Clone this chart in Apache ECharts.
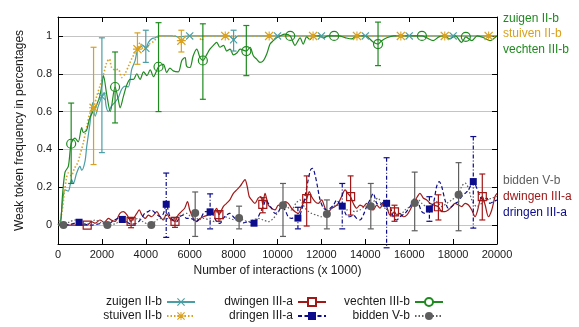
<!DOCTYPE html>
<html>
<head>
<meta charset="utf-8">
<script src="https://cdn.jsdelivr.net/npm/echarts@6/dist/echarts.min.js"></script>
<style>html,body{margin:0;padding:0;background:#fff}#c{width:579px;height:327px}</style>
</head>
<body>
<div id="c"></div>
<script>
// ---------- data (x in thousands of interactions, y = weak token frequency) ----------
const xMin = 0, xMax = 20000, xInterval = 2000;
const yTickValues = [0, 0.2, 0.4, 0.6, 0.8, 1];

const zuigenLine = [[0,0],[90,0.01],[240,0.15],[320,0.186],[470,0.18],[620,0.24],[700,0.22],[850,0.275],[1000,0.31],[1080,0.29],[1230,0.337],[1310,0.417],[1460,0.54],[1580,0.647],[1690,0.576],[1840,0.63],[2000,0.68],[2110,0.70],[2190,0.63],[2290,0.6],[2440,0.63],[2600,0.65],[2750,0.674],[2900,0.718],[3050,0.735],[3200,0.73],[3360,0.824],[3510,0.868],[3610,0.92],[3740,0.94],[3900,0.948],[4000,0.935],[4120,0.966],[4270,0.985],[4420,0.99],[4600,1.0],[5200,1.0],[5500,0.995],[6000,1.0],[7800,1.0],[8000,0.98],[8200,1.0],[20000,1.0]];
const stuivenLine = [[0,0],[150,0.05],[300,0.18],[400,0.257],[470,0.275],[600,0.26],[750,0.3],[900,0.33],[1000,0.37],[1150,0.434],[1310,0.52],[1460,0.594],[1620,0.62],[1760,0.68],[1910,0.735],[2060,0.79],[2220,0.86],[2340,0.878],[2440,0.834],[2600,0.82],[2750,0.824],[2900,0.78],[3050,0.8],[3210,0.84],[3360,0.88],[3510,0.91],[3620,0.93],[3740,0.965],[3890,0.93],[4040,0.935],[4190,0.96],[4350,0.97],[4500,0.99],[4650,1.0],[5400,1.0],[5620,0.975],[5860,1.0],[6400,1.0],[6540,0.975],[6700,1.0],[20000,1.0]];
const vechtenLine = [[0,0],[100,0.0],[200,0.15],[320,0.28],[470,0.31],[600,0.43],[775,0.46],[920,0.44],[1080,0.515],[1150,0.49],[1300,0.5],[1430,0.56],[1590,0.6],[1740,0.63],[1900,0.68],[2000,0.74],[2070,0.79],[2220,0.69],[2380,0.6],[2600,0.73],[2750,0.66],[2830,0.62],[2980,0.68],[3130,0.74],[3290,0.77],[3440,0.77],[3590,0.8],[3740,0.77],[3900,0.81],[4050,0.79],[4200,0.82],[4350,0.785],[4580,0.837],[4800,0.85],[4950,0.807],[5100,0.83],[5250,0.815],[5480,0.81],[5640,0.87],[5790,0.886],[5860,0.84],[6010,0.833],[6160,0.895],[6320,0.93],[6470,0.886],[6600,0.87],[6770,0.9],[6920,0.93],[7080,0.95],[7230,0.966],[7380,0.94],[7540,0.95],[7690,0.92],[7840,0.93],[7990,0.9],[8150,0.91],[8300,0.93],[8580,0.92],[8750,0.94],[8900,0.895],[9050,0.877],[9200,0.86],[9360,0.87],[9510,0.904],[9660,0.957],[9810,0.975],[9960,0.99],[10110,1.0],[10340,1.01],[10580,1.0],[10800,0.95],[11030,0.99],[11170,0.957],[11330,0.995],[11480,0.98],[11630,1.0],[11900,1.0],[12100,0.99],[12300,1.0],[12580,1.0],[12800,1.0],[13100,0.99],[13380,0.984],[13600,1.0],[14000,1.0],[14370,0.966],[14580,0.957],[14750,0.975],[14980,0.99],[15300,1.0],[15700,1.0],[16100,1.0],[16580,1.0],[16800,0.99],[17100,0.975],[17350,0.995],[17600,1.0],[17850,0.985],[18100,1.0],[18390,0.966],[18580,0.995],[18850,0.975],[19100,1.0],[19400,0.99],[19680,0.975],[19900,0.99],[20000,1.0]];
const dwingenLine = [[0,0],[300,0],[700,0],[1000,0.0],[1330,0.0],[1530,0.018],[1700,0.01],[1910,0.027],[2100,0.015],[2300,0.035],[2450,0.025],[2600,0.02],[2820,0.062],[2980,0.071],[3150,0.053],[3330,0.02],[3440,0.035],[3590,0.062],[3700,0.08],[3820,0.053],[3970,0.035],[4120,0.053],[4270,0.044],[4500,0.071],[4650,0.045],[4800,0.027],[4950,0.062],[5100,0.035],[5330,0.02],[5470,0.053],[5620,0.071],[5770,0.089],[5900,0.124],[6000,0.08],[6150,0.04],[6320,0.018],[6470,0.035],[6620,0.044],[6840,0.053],[7080,0.062],[7230,0.089],[7330,0.055],[7530,0.098],[7680,0.115],[7830,0.133],[7990,0.168],[8140,0.186],[8290,0.204],[8440,0.23],[8520,0.24],[8620,0.204],[8710,0.151],[8820,0.133],[8970,0.115],[9120,0.142],[9240,0.151],[9330,0.11],[9430,0.168],[9580,0.106],[9730,0.089],[9890,0.08],[10040,0.106],[10190,0.098],[10340,0.124],[10490,0.115],[10640,0.089],[10800,0.071],[10950,0.062],[11100,0.098],[11250,0.133],[11330,0.14],[11450,0.177],[11550,0.151],[11710,0.124],[11860,0.115],[12010,0.133],[12170,0.089],[12320,0.071],[12470,0.089],[12620,0.098],[12770,0.115],[12920,0.151],[13080,0.186],[13200,0.168],[13330,0.15],[13450,0.115],[13610,0.089],[13760,0.106],[13910,0.098],[14060,0.115],[14210,0.089],[14360,0.08],[14520,0.106],[14670,0.089],[14820,0.115],[14970,0.098],[15130,0.053],[15330,0.07],[15430,0.053],[15580,0.062],[15730,0.044],[15890,0.053],[16040,0.08],[16190,0.115],[16370,0.15],[16490,0.168],[16650,0.142],[16800,0.133],[16950,0.115],[17100,0.106],[17330,0.097],[17480,0.071],[17630,0.071],[17780,0.08],[17940,0.098],[18090,0.115],[18240,0.106],[18390,0.098],[18550,0.115],[18700,0.106],[18850,0.08],[19000,0.044],[19100,0.071],[19230,0.133],[19330,0.15],[19460,0.106],[19610,0.044],[19760,0.08],[19910,0.151],[20000,0.168]];
const dringenLine = [[0,0],[300,0],[600,0.005],[960,0.015],[1200,0.005],[1500,0.0],[1800,0.005],[2100,0.01],[2300,0.008],[2520,0.023],[2750,0.035],[2930,0.03],[3110,0.018],[3340,0.005],[3570,0.008],[3800,0.035],[3950,0.062],[4100,0.071],[4250,0.08],[4450,0.062],[4650,0.044],[4800,0.06],[4930,0.11],[5100,0.044],[5250,0.027],[5400,0.018],[5560,0.044],[5710,0.053],[5860,0.035],[6010,0.035],[6160,0.03],[6240,0.018],[6390,0.027],[6540,0.044],[6690,0.071],[6930,0.07],[7080,0.053],[7230,0.018],[7380,0.009],[7530,0.035],[7680,0.053],[7830,0.062],[7990,0.044],[8140,0.027],[8290,0.018],[8440,0.012],[8670,0.018],[8930,0.01],[9050,0.027],[9200,0.062],[9350,0.098],[9480,0.133],[9580,0.115],[9730,0.089],[9890,0.062],[10040,0.071],[10190,0.098],[10340,0.08],[10490,0.044],[10640,0.035],[10800,0.044],[10930,0.037],[11100,0.08],[11250,0.151],[11400,0.24],[11510,0.293],[11600,0.3],[11710,0.266],[11820,0.204],[11940,0.133],[12100,0.089],[12250,0.08],[12400,0.089],[12550,0.106],[12700,0.133],[12850,0.106],[12950,0.1],[13150,0.05],[13300,0.044],[13450,0.053],[13610,0.035],[13760,0.027],[13910,0.053],[14060,0.098],[14210,0.133],[14360,0.168],[14520,0.115],[14670,0.106],[14820,0.12],[14970,0.115],[15130,0.098],[15270,0.044],[15430,0.027],[15580,0.044],[15810,0.062],[16040,0.098],[16270,0.142],[16420,0.115],[16570,0.071],[16720,0.062],[16920,0.085],[17100,0.115],[17250,0.204],[17370,0.23],[17480,0.204],[17630,0.133],[17780,0.089],[17940,0.098],[18090,0.115],[18240,0.124],[18390,0.151],[18550,0.168],[18700,0.186],[18920,0.23],[19080,0.195],[19230,0.151],[19380,0.133],[19530,0.142],[19680,0.115],[19840,0.124],[20000,0.133]];
const biddenLine = [[0,0],[250,0],[550,0.018],[780,0.027],[1000,0.012],[1310,0.005],[1690,0.027],[1950,0.012],[2250,0],[2650,0.009],[2880,0.027],[3110,0.018],[3400,0.027],[3650,0.035],[3870,0.018],[4250,0],[4500,0.027],[4720,0.035],[4950,0.035],[5180,0.027],[5400,0.044],[5620,0.053],[5860,0.062],[6080,0.044],[6250,0.064],[6390,0.027],[6620,0.035],[6920,0.027],[7150,0.018],[7380,0.027],[7610,0.044],[7830,0.035],[8060,0.027],[8250,0.037],[8440,0.027],[8670,0.018],[8900,0.027],[9120,0.035],[9350,0.027],[9580,0.018],[9810,0.035],[10040,0.071],[10250,0.105],[10420,0.098],[10640,0.08],[10840,0.115],[11020,0.133],[11170,0.106],[11330,0.08],[11550,0.062],[11780,0.053],[12010,0.044],[12250,0.058],[12470,0.089],[12700,0.106],[12920,0.098],[13160,0.08],[13300,0.08],[13530,0.071],[13760,0.08],[13990,0.098],[14250,0.1],[14440,0.133],[14590,0.142],[14740,0.106],[14900,0.089],[15130,0.071],[15350,0.062],[15580,0.053],[15810,0.08],[16040,0.098],[16250,0.117],[16420,0.133],[16570,0.115],[16800,0.098],[17020,0.106],[17250,0.124],[17480,0.098],[17710,0.115],[17940,0.133],[18250,0.16],[18390,0.204],[18550,0.222],[18700,0.195],[18850,0.133],[19080,0.098],[19310,0.115],[19530,0.133],[19760,0.142],[20000,0.151]];

// markers: [x, y, low, high]
const zuigenMarks = [[2000,0.68,0.383,0.99],[4000,0.935,0.86,1.03],[6000,1,1,1],[8000,0.98,0.92,1.03],[10000,1,1,1],[12000,1,1,1],[14000,1,1,1],[16000,1,1,1],[18000,1,1,1]];
const stuivenMarks = [[1620,0.62,0.32,0.94],[3620,0.93,0.85,1.016],[5620,0.975,0.915,1.03],[7620,1,1,1],[9620,1,1,1],[11620,1,1,1],[13620,1,1,1],[15620,1,1,1],[17620,1,1,1],[19620,1,1,1]];
const vechtenMarks = [[600,0.43,0.22,0.645],[2600,0.73,0.54,0.915],[4580,0.837,0.6,1.07],[6600,0.87,0.665,1.064],[8580,0.92,0.79,1.055],[10580,1,1,1],[12580,1,1,1],[14580,0.957,0.843,1.073],[16580,1,1,1],[18580,0.995,0.995,0.995]];
const dwingenMarks = [[1330,0,-0.008,0.008],[3330,0.02,-0.014,0.035],[5330,0.02,-0.012,0.04],[7330,0.055,0.02,0.07],[9330,0.11,0.065,0.145],[11330,0.14,-0.005,0.26],[13330,0.15,0.053,0.26],[15330,0.07,0.02,0.105],[17330,0.097,0.027,0.16],[19330,0.15,0.027,0.27]];
const dringenMarks = [[960,0.015,0.005,0.025],[2930,0.03,0.015,0.045],[4930,0.11,-0.065,0.275],[6930,0.07,-0.02,0.165],[8930,0.01,0.0,0.02],[10930,0.037,-0.02,0.094],[12950,0.1,-0.02,0.22],[14970,0.115,-0.12,0.356],[16920,0.085,0.02,0.15],[18920,0.23,-0.016,0.468]];
const biddenMarks = [[250,0,0,0],[2250,0,0,0],[4250,0,0,0],[6250,0.064,-0.06,0.175],[8250,0.037,-0.02,0.1],[10250,0.105,-0.06,0.22],[12250,0.058,-0.02,0.133],[14250,0.1,-0.02,0.22],[16250,0.117,-0.03,0.28],[18250,0.16,-0.03,0.33]];

// ---------- styles ----------
const FONT = "'Liberation Sans', Arial, Helvetica, sans-serif";
const X_SYM = 'path://M0,1 L1,0 L5,4 L9,0 L10,1 L6,5 L10,9 L9,10 L5,6 L1,10 L0,9 L4,5 Z';
const STAR_SYM = 'path://M0,1 L1,0 L5,4 L9,0 L10,1 L6,5 L10,9 L9,10 L5,6 L1,10 L0,9 L4,5 Z M4.4,0 L5.6,0 L5.6,4.4 L10,4.4 L10,5.6 L5.6,5.6 L5.6,10 L4.4,10 L4.4,5.6 L0,5.6 L0,4.4 L4.4,4.4 Z';

const defs = [
  {name:'zuigen II-b',  line: zuigenLine,  marks: zuigenMarks,  color:'#4a9ea4', dash:'solid',  width:1.2, sym: X_SYM,       mSym: X_SYM,    size:8, open:false, barDash:null},
  {name:'stuiven II-b', line: stuivenLine, marks: stuivenMarks, color:'#d9a11f', dash:[1.5,2],  width:1.6, sym: STAR_SYM,    mSym: STAR_SYM, size:9, open:false, barDash:null},
  {name:'dwingen III-a',line: dwingenLine, marks: dwingenMarks, color:'#a01818', dash:'solid',  width:1.2, sym:'emptyRect',  mSym:'rect',    size:8, open:true,  barDash:null},
  {name:'dringen III-a',line: dringenLine, marks: dringenMarks, color:'#0c0c8c', dash:[4,2.5],  width:1.2, sym:'rect',       mSym:'rect',    size:7, open:false, barDash:[4,2,1,2]},
  {name:'vechten III-b',line: vechtenLine, marks: vechtenMarks, color:'#1f8a1f', dash:'solid',  width:1.2, sym:'emptyCircle',mSym:'circle',  size:9, open:true,  barDash:null},
  {name:'bidden V-b',   line: biddenLine,  marks: biddenMarks,  color:'#5e5e5e', dash:[1.5,2],  width:1.2, sym:'circle',     mSym:'circle',  size:8, open:false, barDash:null}
];

const series = [];
defs.forEach(d => {
  series.push({
    name: d.name, type: 'line', data: d.line, showSymbol: false, symbol: d.sym, symbolSize: d.size,
    smooth: 0.3, lineStyle: {color: d.color, width: d.width, type: d.dash},
    itemStyle: {color: d.color, borderColor: d.color}, z: 2, silent: true
  });
});
defs.forEach(d => {
  series.push({
    name: d.name + ' err', type: 'custom', data: d.marks, z: 3, silent: true,
    encode: {x: 0, y: [1, 2, 3]},
    renderItem: (params, api) => {
      const x = api.value(0), lo = api.value(2), hi = api.value(3);
      if (hi - lo < 0.02) return null;
      const p1 = api.coord([x, hi]), p2 = api.coord([x, lo]);
      const w = 3;
      const st = {stroke: d.color, lineWidth: 1.2, lineDash: d.barDash || null};
      const cap = {stroke: d.color, lineWidth: 1.2};
      return {type: 'group', children: [
        {type: 'line', shape: {x1: p1[0], y1: p1[1], x2: p2[0], y2: p2[1]}, style: st},
        {type: 'line', shape: {x1: p1[0]-w, y1: p1[1], x2: p1[0]+w, y2: p1[1]}, style: cap},
        {type: 'line', shape: {x1: p2[0]-w, y1: p2[1], x2: p2[0]+w, y2: p2[1]}, style: cap}
      ]};
    }
  });
});
defs.forEach(d => {
  series.push({
    name: d.name + ' pts', type: 'scatter', data: d.marks.map(m => [m[0], m[1]]),
    symbol: d.mSym, symbolSize: d.size, z: 4, silent: true,
    itemStyle: d.open
      ? {color: 'rgba(255,255,255,0)', borderColor: d.color, borderWidth: 1.2, opacity: 1}
      : {color: d.color, borderWidth: 0, opacity: 1}
  });
});

const axisLineStyle = {show: true, onZero: false, lineStyle: {color: '#000', width: 1}};
const tickStyle = {show: true, inside: true, length: 5, lineStyle: {color: '#000', width: 1}};

const legendBase = {
  orient: 'vertical', align: 'right', itemWidth: 28, itemHeight: 10, itemGap: 2,
  textStyle: {fontSize: 12, color: '#1a1a1a', fontFamily: FONT}, selectedMode: false, padding: 0
};

const option = {
  animation: false,
  textStyle: {fontFamily: FONT},
  grid: {left: 58, right: 82, top: 17, bottom: 83},
  xAxis: [
    {type: 'value', min: xMin, max: xMax, interval: xInterval, position: 'bottom',
     axisLine: axisLineStyle, axisTick: tickStyle,
     axisLabel: {color: '#1a1a1a', fontSize: 11, margin: 5, formatter: v => String(v)},
     splitLine: {show: false},
     name: 'Number of interactions (x 1000)', nameLocation: 'middle', nameGap: 21,
     nameTextStyle: {fontSize: 12, color: '#1a1a1a'}},
    {type: 'value', min: xMin, max: xMax, interval: xInterval, position: 'top',
     axisLine: axisLineStyle, axisTick: tickStyle, axisLabel: {show: false}, splitLine: {show: false}}
  ],
  yAxis: [
    {type: 'value', min: -0.1, max: 1.1, position: 'left',
     axisLine: axisLineStyle, axisTick: Object.assign({customValues: yTickValues}, tickStyle),
     axisLabel: {customValues: yTickValues, color: '#1a1a1a', fontSize: 11, margin: 6, formatter: v => String(v)},
     splitLine: {show: true, lineStyle: {color: '#c4c4c4', width: 1}},
     name: 'Weak token frequency in percentages', nameLocation: 'middle', nameGap: 32, nameRotate: 90,
     nameTextStyle: {fontSize: 12, color: '#1a1a1a'}},
    {type: 'value', min: -0.1, max: 1.1, position: 'right',
     axisLine: axisLineStyle, axisTick: Object.assign({customValues: yTickValues}, tickStyle),
     axisLabel: {show: false}, splitLine: {show: false}}
  ],
  legend: [
    Object.assign({}, legendBase, {data: ['zuigen II-b', 'stuiven II-b'], right: 383, top: 296}),
    Object.assign({}, legendBase, {data: ['dwingen III-a', 'dringen III-a'], right: 252, top: 296}),
    Object.assign({}, legendBase, {data: ['vechten III-b', 'bidden V-b'], right: 135, top: 296})
  ],
  graphic: [
    {type: 'text', left: 503, top: 13,  style: {text: 'zuigen II-b',   fill: '#1f8a1f', font: '12px ' + FONT}},
    {type: 'text', left: 503, top: 28,  style: {text: 'stuiven II-b',  fill: '#d9a11f', font: '12px ' + FONT}},
    {type: 'text', left: 503, top: 44,  style: {text: 'vechten III-b', fill: '#1f8a1f', font: '12px ' + FONT}},
    {type: 'text', left: 503, top: 175, style: {text: 'bidden V-b',    fill: '#5e5e5e', font: '12px ' + FONT}},
    {type: 'text', left: 503, top: 191, style: {text: 'dwingen III-a', fill: '#a01818', font: '12px ' + FONT}},
    {type: 'text', left: 503, top: 207, style: {text: 'dringen III-a', fill: '#0c0c8c', font: '12px ' + FONT}}
  ],
  series: series
};

const chart = echarts.init(document.getElementById('c'), null, {renderer: 'canvas'});
chart.setOption(option);
</script>
</body>
</html>
